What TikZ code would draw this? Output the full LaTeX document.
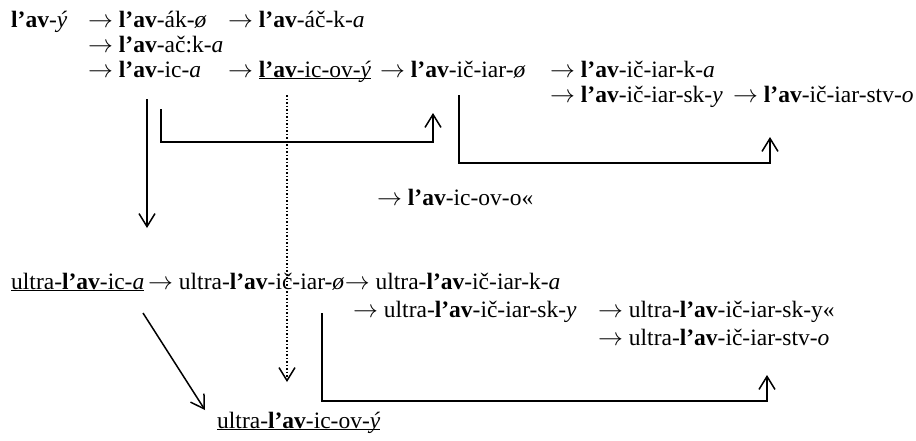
\documentclass[tikz,border=0pt]{standalone}
\usepackage{fontspec}
\setmainfont{Liberation Serif}
\usetikzlibrary{arrows.meta}

\newcommand{\lav}{\textbf{l’av}}
\newcommand{\der}{$\rightarrow$}
\newcommand{\undl}[1]{\underline{\smash{#1}}}

\tikzset{
  form/.style={anchor=base west, inner sep=0pt, font=\fontsize{23.5}{25}\selectfont},
  link/.style={line width=1.5pt, -{Straight Barb[length=13pt,width=16pt,line width=1.5pt]}},
  dotlink/.style={link, dotted},
}

\begin{document}
\begin{tikzpicture}[x=1pt,y=-1pt]
\useasboundingbox (0,0) rectangle (916,440);
% derivations from l'av-y
\node[form] (lavy) at (11,27) {\lav-\textit{ý}};
\node[form] (lavak) at (88,27) {\der{} \lav-ák-\textit{ø}};
\node[form] (lavacka) at (228,27) {\der{} \lav-áč-k-\textit{a}};
\node[form] (lavacka2) at (88,52) {\der{} \lav-ač:k-\textit{a}};
\node[form] (lavica) at (88,77) {\der{} \lav-ic-\textit{a}};
\node[form] (lavicovy) at (228,77) {\der{} \undl{\lav-ic-ov-\textit{ý}}};
\node[form] (laviciar) at (380,77) {\der{} \lav-ič-iar-\textit{ø}};
\node[form] (laviciarka) at (550,77) {\der{} \lav-ič-iar-k-\textit{a}};
\node[form] (laviciarsky) at (550,102) {\der{} \lav-ič-iar-sk-\textit{y}};
\node[form] (laviciarstvo) at (733,102) {\der{} \lav-ič-iar-stv-\textit{o}};
\node[form] (lavicovo) at (377,205) {\der{} \lav-ic-ov-o«};
% the ultra- forms
\node[form] (ulica) at (11,289) {\undl{ultra-\lav-ic-\textit{a}}};
\node[form] (uliciar) at (148,289) {\der{} ultra-\lav-ič-iar-\textit{ø}};
\node[form] (uliciarka) at (uliciar.base east) {\der{} ultra-\lav-ič-iar-k-\textit{a}};
\node[form] (uliciarsky) at (353,317) {\der{} ultra-\lav-ič-iar-sk-\textit{y}};
\node[form] (uliciarsky2) at (598,317) {\der{} ultra-\lav-ič-iar-sk-y«};
\node[form] (uliciarstvo) at (598,345) {\der{} ultra-\lav-ič-iar-stv-\textit{o}};
\node[form] (ulicovy) at (217,428) {\undl{ultra-\lav-ic-ov-\textit{ý}}};

% bends
\coordinate (a1) at (147,99);
\coordinate (a2) at (147,228);
\coordinate (b1) at (161,109);
\coordinate (b2) at (433,113);
\coordinate (c1) at (459,95);
\coordinate (c2) at (770,137);
\coordinate (d1) at (287,95);
\coordinate (d2) at (287,382);
\coordinate (e1) at (143,313);
\coordinate (e2) at (205,410);
\coordinate (f1) at (322,313);
\coordinate (f2) at (767,375);

\draw[link] (a1) -- (a2);
\draw[link] (b1) |- (433,142) -- (b2);
\draw[link] (c1) |- (770,163) -- (c2);
\draw[dotlink] (d1) -- (d2);
\draw[link] (e1) -- (e2);
\draw[link] (f1) |- (767,401) -- (f2);
\end{tikzpicture}
\end{document}
